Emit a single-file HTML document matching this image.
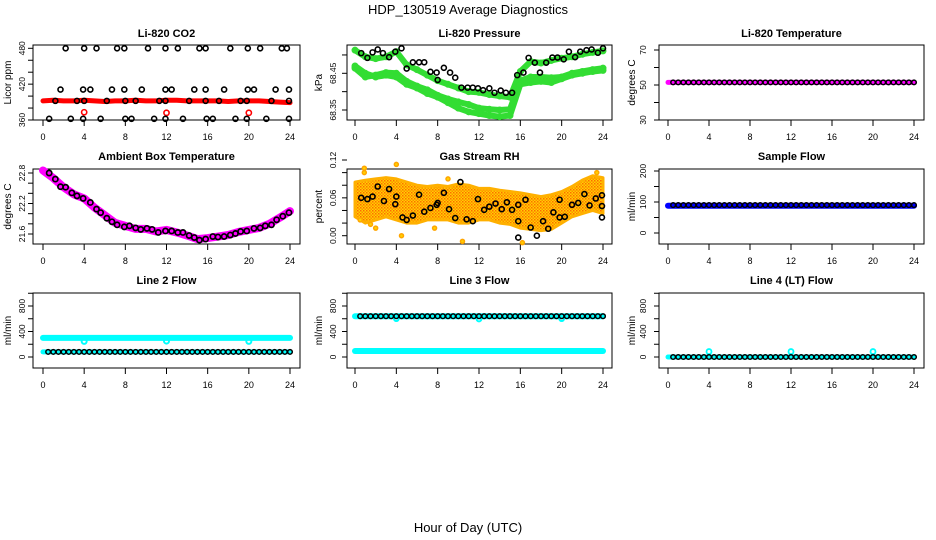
<!DOCTYPE html>
<html><head><meta charset="utf-8"><style>
html,body{margin:0;padding:0;background:#fff}
svg{display:block}
text{font-family:"Liberation Sans",sans-serif}
</style></head><body>
<svg id="c" width="936" height="540" xmlns="http://www.w3.org/2000/svg">
<defs>
<pattern id="rhpat" width="3" height="3" patternUnits="userSpaceOnUse">
<rect width="3" height="3" fill="#ffd200"/><rect x="0" y="0" width="1.5" height="1.5" fill="#ff6a00"/><rect x="1.5" y="1.5" width="1.5" height="1.5" fill="#ff8c00"/>
</pattern>
</defs>
<text x="468" y="14" text-anchor="middle" font-size="13">HDP_130519  Average Diagnostics</text>
<text x="468" y="532" text-anchor="middle" font-size="13">Hour of Day (UTC)</text>
</svg>
<script>
const xTicks=[0,4,8,12,16,20,24];
const h25=[0,1,2,3,4,5,6,7,8,9,10,11,12,13,14,15,16,17,18,19,20,21,22,23,24];
const hHalf=[0.5,1,1.5,2,2.5,3,3.5,4,4.5,5,5.5,6,6.5,7,7.5,8,8.5,9,9.5,10,10.5,11,11.5,12,12.5,13,13.5,14,14.5,15,15.5,16,16.5,17,17.5,18,18.5,19,19.5,20,20.5,21,21.5,22,22.5,23,23.5,24];
const dipHours=[4,12,20];
// CO2
const co2Red=[392,393,392,392,393,392,391,392,392,393,392,392,393,393,392,392,392,392,391,392,392,392,391,390,389];
const co2RedOutVals=[373,372,372];
const co2BlkHours=[2.2,4.0,5.2,7.2,7.9,10.2,11.9,13.1,15.2,15.8,18.2,19.9,21.1,23.2,23.7,1.7,3.9,4.6,6.7,7.9,9.6,11.9,12.5,14.7,15.8,17.6,19.9,20.5,22.6,23.9,1.2,3.3,4.0,6.2,8.0,9.0,11.3,11.9,14.2,15.8,17.1,19.2,19.8,22.2,23.9,0.6,2.7,3.9,5.6,8.0,8.6,10.8,11.9,13.6,15.9,16.5,18.7,19.8,21.7,23.9];
const co2BlkVals=[480,480,480,480,480,480,480,480,480,480,480,480,480,480,480,411,411,411,411,411,411,411,411,411,411,411,411,411,411,411,392,392,392,392,392,392,392,392,392,392,392,392,392,392,392,362,362,362,362,362,362,362,362,362,362,362,362,362,362,362];
// Pressure
const pUpper=[68.513,68.495,68.490,68.495,68.509,68.473,68.460,68.445,68.430,68.420,68.410,68.400,68.398,68.392,68.388,68.385,68.455,68.482,68.478,68.485,68.491,68.495,68.502,68.507,68.511];
const pMid=[68.464,68.440,68.445,68.452,68.450,68.428,68.415,68.405,68.390,68.380,68.372,68.365,68.355,68.352,68.350,68.352,68.430,68.440,68.440,68.438,68.440,68.450,68.455,68.460,68.464];
const pLow=[68.470,68.450,68.440,68.445,68.440,68.420,68.410,68.395,68.385,68.370,68.355,68.345,68.340,68.335,68.332,68.335,68.420,68.425,68.428,68.425,68.435,68.445,68.450,68.455,68.458];
const pBlkHours=[0.6,1.2,1.7,2.2,2.7,3.3,3.9,4.5,5.0,5.6,6.2,6.7,7.3,7.9,8.0,8.6,9.2,9.7,10.3,10.9,11.4,11.9,12.4,13.0,13.5,14.1,14.6,15.2,15.7,16.3,16.8,17.4,17.9,18.5,19.1,19.6,20.2,20.7,21.3,21.8,22.4,22.9,23.5,24.0];
const pBlkVals=[68.505,68.492,68.507,68.515,68.505,68.494,68.509,68.518,68.463,68.480,68.480,68.480,68.454,68.452,68.432,68.465,68.452,68.438,68.411,68.411,68.411,68.409,68.404,68.409,68.397,68.403,68.397,68.397,68.445,68.452,68.492,68.479,68.452,68.479,68.493,68.493,68.488,68.509,68.494,68.509,68.513,68.515,68.506,68.518];
// Li-820 temperature
const tMag=[51.5,51.5,51.5,51.5,51.5,51.5,51.5,51.5,51.5,51.5,51.5,51.5,51.5,51.5,51.5,51.5,51.5,51.5,51.5,51.5,51.5,51.5,51.5,51.5,51.5];
const tBlk=[51.5,51.5,51.5,51.5,51.5,51.5,51.5,51.5,51.5,51.5,51.5,51.5,51.5,51.5,51.5,51.5,51.5,51.5,51.5,51.5,51.5,51.5,51.5,51.5,51.5,51.5,51.5,51.5,51.5,51.5,51.5,51.5,51.5,51.5,51.5,51.5,51.5,51.5,51.5,51.5,51.5,51.5,51.5,51.5,51.5,51.5,51.5,51.5];
// Ambient
const ambMag=[22.85,22.70,22.52,22.38,22.30,22.12,21.97,21.82,21.76,21.70,21.70,21.65,21.68,21.63,21.57,21.50,21.52,21.55,21.58,21.64,21.68,21.72,21.80,21.92,22.05];
const ambBlkHours=[0.6,1.2,1.7,2.2,2.8,3.3,3.9,4.6,5.2,5.6,6.2,6.7,7.2,7.9,8.4,9.0,9.5,10.1,10.6,11.2,11.9,12.5,13.1,13.6,14.2,14.7,15.2,15.8,16.5,17.0,17.6,18.2,18.7,19.2,19.8,20.5,21.1,21.6,22.2,22.7,23.3,23.9];
const ambBlkVals=[22.80,22.68,22.53,22.52,22.41,22.35,22.30,22.22,22.09,22.02,21.91,21.84,21.78,21.74,21.76,21.72,21.69,21.71,21.69,21.63,21.66,21.66,21.63,21.63,21.57,21.53,21.48,21.50,21.55,21.54,21.55,21.58,21.61,21.65,21.66,21.71,21.72,21.76,21.78,21.88,21.95,22.02];
// RH
const rhHigh=[0.085,0.088,0.090,0.092,0.090,0.085,0.080,0.078,0.080,0.078,0.082,0.080,0.075,0.075,0.072,0.070,0.068,0.065,0.062,0.065,0.070,0.078,0.088,0.095,0.092];
const rhLow=[0.030,0.020,0.025,0.030,0.025,0.020,0.020,0.025,0.025,0.025,0.020,0.020,0.025,0.025,0.020,0.018,0.012,0.010,0.008,0.010,0.020,0.030,0.035,0.040,0.035];
const rhOutHours=[0.9,0.9,4.0,4.5,7.7,10.4,16.2,9.0,1.5,0.5,2.0,23.4];
const rhOutVals=[0.107,0.100,0.113,0.000,0.012,-0.009,-0.011,0.090,0.018,0.025,0.012,0.100];
const rhBlkHours=[0.6,1.2,1.7,2.2,2.8,3.3,3.9,4.0,4.6,5.0,5.6,6.2,6.7,7.3,7.9,8.0,8.6,9.1,9.7,10.2,10.8,11.4,11.9,12.5,13.0,13.6,14.2,14.7,15.2,15.8,15.8,15.8,16.5,17.0,17.6,18.2,18.7,19.2,19.8,19.8,20.3,21.0,21.6,22.2,22.7,23.3,23.9,23.9,23.9];
const rhBlkVals=[0.060,0.058,0.062,0.078,0.055,0.074,0.050,0.062,0.029,0.025,0.032,0.065,0.038,0.044,0.049,0.052,0.068,0.042,0.028,0.085,0.026,0.023,0.058,0.041,0.046,0.051,0.042,0.053,0.041,0.049,0.023,-0.003,0.057,0.013,0.000,0.023,0.011,0.037,0.029,0.057,0.030,0.049,0.052,0.066,0.048,0.059,0.064,0.047,0.029];
// Sample flow
const sfBlue=[88,88,88,88,88,88,88,88,88,88,88,88,88,88,88,88,88,88,88,88,88,88,88,88,88];
const sfBlk=[90,90,90,90,90,90,90,90,90,90,90,90,90,90,90,90,90,90,90,90,90,90,90,90,90,90,90,90,90,90,90,90,90,90,90,90,90,90,90,90,90,90,90,90,90,90,90,90];
// Line 2
const l2Up=[300,300,300,300,300,300,300,300,300,300,300,300,300,300,300,300,300,300,300,300,300,300,300,300,300];
const l2Low=[80,80,80,80,80,80,80,80,80,80,80,80,80,80,80,80,80,80,80,80,80,80,80,80,80];
const l2Dip=[245,250,245];
const l2Blk=[80,80,80,80,80,80,80,80,80,80,80,80,80,80,80,80,80,80,80,80,80,80,80,80,80,80,80,80,80,80,80,80,80,80,80,80,80,80,80,80,80,80,80,80,80,80,80,80];
// Line 3
const l3Up=[640,640,640,640,640,640,640,640,640,640,640,640,640,640,640,640,640,640,640,640,640,640,640,640,640];
const l3Low=[95,95,95,95,95,95,95,95,95,95,95,95,95,95,95,95,95,95,95,95,95,95,95,95,95];
const l3Dip=[600,595,600];
const l3Blk=[640,640,640,640,640,640,640,640,640,640,640,640,640,640,640,640,640,640,640,640,640,640,640,640,640,640,640,640,640,640,640,640,640,640,640,640,640,640,640,640,640,640,640,640,640,640,640,640];
// Line 4
const l4Cy=[0,0,0,0,0,0,0,0,0,0,0,0,0,0,0,0,0,0,0,0,0,0,0,0,0];
const l4Spike=[85,85,85];
const l4Blk=[0,0,0,0,0,0,0,0,0,0,0,0,0,0,0,0,0,0,0,0,0,0,0,0,0,0,0,0,0,0,0,0,0,0,0,0,0,0,0,0,0,0,0,0,0,0,0,0];

const svg=document.getElementById('c');
const NS='http://www.w3.org/2000/svg';
function mk(tag,attrs,parent){const e=document.createElementNS(NS,tag);for(const k in attrs)e.setAttribute(k,attrs[k]);(parent||svg).appendChild(e);return e;}

const cols=[{x0:43,x24:290,left:33,right:300,tl:22,yl:8},{x0:355,x24:603,left:347,right:612,tl:333,yl:319},{x0:668,x24:914,left:659,right:924,tl:643,yl:632}];
const rows=[{top:45,bottom:120,ty:37,xl:140},{top:169,bottom:244,ty:160,xl:264},{top:293,bottom:368,ty:284,xl:388}];

function panel(name,title,ci,ri,vA,yA,vB,yB,ticks,labels,ylab){
  const c=cols[ci],r=rows[ri];
  const g=mk('g',{});
  
  
  const X=h=>c.x0+h*(c.x24-c.x0)/24;
  const Y=v=>yA+(v-vA)*(yB-yA)/(vB-vA);
  const t=mk('text',{x:(c.left+c.right)/2,y:r.ty,'text-anchor':'middle','font-size':11,'font-weight':'bold'},g);
  t.textContent=title;
  
  
  const box=mk('rect',{x:c.left,y:r.top,width:c.right-c.left,height:r.bottom-r.top,fill:'none',stroke:'#000','stroke-width':1},g);
  
  
  xTicks.forEach(h=>{
    mk('line',{x1:X(h),x2:X(h),y1:r.bottom,y2:r.bottom+6,stroke:'#000'},g);
    const tx=mk('text',{x:X(h),y:r.xl,'text-anchor':'middle','font-size':9},g);
    tx.textContent=h;
    
    
  });
  ticks.forEach(v=>{mk('line',{x1:c.left-5,x2:c.left,y1:Y(v),y2:Y(v),stroke:'#000'},g);});
  labels.forEach(l=>{
    const ty=mk('text',{x:c.tl,y:Y(parseFloat(l)),'text-anchor':'middle','font-size':8.5,transform:`rotate(-90 ${c.tl} ${Y(parseFloat(l))})`,dy:3},g);
    ty.textContent=l;
    
    
  });
  const yl=mk('text',{x:c.yl,y:(r.top+r.bottom)/2,'text-anchor':'middle','font-size':10,transform:`rotate(-90 ${c.yl} ${(r.top+r.bottom)/2})`,dy:3},g);
  yl.textContent=ylab;
  
  
  const pg=mk('g',{},g);
  return {X,Y,g:pg};
}
function band(P,hs,vs,color,w,nm){
  const pts=hs.map((h,i)=>P.X(h)+','+P.Y(vs[i])).join(' ');
  const l=mk('polyline',{points:pts,fill:'none',stroke:color,'stroke-width':w,'stroke-linejoin':'round','stroke-linecap':'round'},P.g);
  
  
}
function pts(P,hs,vs,color,r,sw,nm,fill){
  hs.forEach((h,i)=>{
    const e=mk('circle',{cx:P.X(h),cy:P.Y(vs[i]),r:r,fill:fill||'none',stroke:color,'stroke-width':sw},P.g);
    
    
  });
}

// Panel 1 CO2
let P=panel('co2','Li-820 CO2',0,0,360,120,480,48.3,[360,380,400,420,440,460,480],['360','420','480'],'Licor ppm');
band(P,h25,co2Red,'#ff0000',5,'co2-red-series');
pts(P,dipHours,co2RedOutVals,'#ff0000',2.6,1.6,'co2-red-point');
pts(P,co2BlkHours,co2BlkVals,'#000',2.5,1.6,'co2-black-point');
// Panel 2 pressure
P=panel('pressure','Li-820 Pressure',1,0,68.45,73.3,68.35,110,[68.35,68.40,68.45,68.50],['68.35','68.45'],'kPa');
[pUpper,pMid,pLow].forEach(a=>{band(P,h25,a,'#33dd33',6,'pressure-green-band');pts(P,h25,a,'#33dd33',2.5,2,'pressure-green-point','#33dd33');});
pts(P,pBlkHours,pBlkVals,'#000',2.5,1.6,'pressure-black-point');
// Panel 3 temperature
P=panel('li820-temp','Li-820 Temperature',2,0,30,120,70,50,[30,40,50,60,70],['30','50','70'],'degrees C');
band(P,h25,tMag,'#ff00ff',5,'temp-magenta-series');
pts(P,hHalf,tBlk,'#000',2.3,1.5,'temp-black-point');
// Panel 4 ambient
P=panel('ambient','Ambient Box Temperature',0,1,21.6,234,22.8,173,[21.6,21.8,22.0,22.2,22.4,22.6,22.8],['21.6','22.2','22.8'],'degrees C');
band(P,h25,ambMag,'#ff00ff',8,'ambient-magenta-series');
pts(P,ambBlkHours,ambBlkVals,'#000',2.6,1.7,'ambient-black-point');
// Panel 5 RH
P=panel('rh','Gas Stream RH',1,1,0,235.7,0.12,160,[0,0.02,0.04,0.06,0.08,0.10,0.12],['0.00','0.06','0.12'],'percent');
(function(){
  const top=h25.map((h,i)=>P.X(h)+','+P.Y(rhHigh[i]));
  const bot=h25.slice().reverse().map((h,j)=>{const i=h25.length-1-j;return P.X(h)+','+P.Y(rhLow[i]);});
  const pg=mk('polygon',{points:top.concat(bot).join(' '),fill:'url(#rhpat)',stroke:'#ffb000','stroke-width':3,'stroke-linejoin':'round'},P.g);
  
  
})();
pts(P,rhOutHours,rhOutVals,'#ffa500',2,1.5,'rh-outlier-point','#ffd200');
pts(P,rhBlkHours,rhBlkVals,'#000',2.5,1.6,'rh-black-point');
// Panel 6 sample flow
P=panel('sample-flow','Sample Flow',2,1,0,233,200,171,[0,50,100,150,200],['0','100','200'],'ml/min');
band(P,h25,sfBlue,'#0000ff',6,'sample-flow-blue-series');
pts(P,hHalf,sfBlk,'#000',2.3,1.5,'sample-flow-black-point');
// Panel 7 line2
P=panel('line2','Line 2 Flow',0,2,0,357,800,306,[0,200,400,600,800,1000],['0','400','800'],'ml/min');
band(P,h25,l2Up,'#00ffff',6,'line2-cyan-upper');
band(P,h25,l2Low,'#00ffff',5,'line2-cyan-lower');
pts(P,dipHours,l2Dip,'#00ffff',2.5,2,'line2-dip-point');
pts(P,hHalf,l2Blk,'#000',2.3,1.5,'line2-black-point');
// Panel 8 line3
P=panel('line3','Line 3 Flow',1,2,0,357,800,306,[0,200,400,600,800,1000],['0','400','800'],'ml/min');
band(P,h25,l3Up,'#00ffff',6,'line3-cyan-upper');
band(P,h25,l3Low,'#00ffff',6,'line3-cyan-lower');
pts(P,dipHours,l3Dip,'#00ffff',2.3,2,'line3-dip-point');
pts(P,hHalf,l3Blk,'#000',2.3,1.5,'line3-black-point');
// Panel 9 line4
P=panel('line4','Line 4 (LT) Flow',2,2,0,357,800,306,[0,200,400,600,800,1000],['0','400','800'],'ml/min');
band(P,h25,l4Cy,'#00ffff',5,'line4-cyan-series');
pts(P,dipHours,l4Spike,'#00ffff',2.5,1.8,'line4-spike-point');
pts(P,hHalf,l4Blk,'#000',2.3,1.5,'line4-black-point');
</script>
</body></html>
